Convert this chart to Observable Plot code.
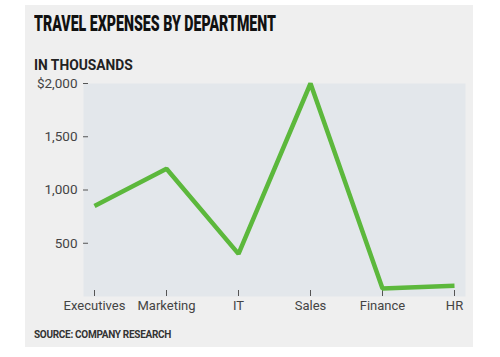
<!DOCTYPE html>
<html>
<head>
<meta charset="utf-8">
<script src="https://cdn.jsdelivr.net/npm/d3@7"></script>
<script src="https://cdn.jsdelivr.net/npm/@observablehq/plot@0.6"></script>
<style>
  html, body { margin: 0; padding: 0; background: #fff; width: 500px; height: 357px; overflow: hidden; }
  #card { position: absolute; left: 25px; top: 5px; width: 448px; height: 342px; background: #efefef; }
  #title { position: absolute; left: 34px; top: 12px; font-family: Roboto, sans-serif; font-weight: 900; font-size: 21.5px; line-height: 1.15; color: #111; white-space: nowrap; transform-origin: 0 0; display: inline-block; }
  #subtitle { position: absolute; left: 34px; top: 57px; font-family: Roboto, sans-serif; font-weight: bold; font-size: 13.8px; color: #222; white-space: nowrap; }
  #chart { position: absolute; left: 0; top: 75px; }
  #source { position: absolute; left: 34px; top: 329px; font-family: Roboto, sans-serif; font-weight: bold; font-size: 10px; color: #333; letter-spacing: -0.3px; white-space: nowrap; }
</style>
</head>
<body>
<div id="card"></div>
<div id="title">TRAVEL EXPENSES BY DEPARTMENT</div>
<div id="subtitle">IN THOUSANDS</div>
<div id="chart"></div>
<div id="source">SOURCE: COMPANY RESEARCH</div>
<script>
const departments = ["Executives", "Marketing", "IT", "Sales", "Finance", "HR"];
const expenses = [850, 1200, 400, 2000, 75, 100];
const yTicks = [500, 1000, 1500, 2000];
const yTickLabels = ["500", "1,000", "1,500", "$2,000"];

const data = departments.map((d, i) => ({department: d, value: expenses[i]}));

// condense the headline to mimic a narrow display face
const title = document.getElementById("title");
const w = title.getBoundingClientRect().width;
title.style.transform = `scaleX(${242 / w})`;

const chart = Plot.plot({
  width: 500,
  height: 245,
  marginLeft: 83,
  marginRight: 35,
  marginTop: 8,
  marginBottom: 24,
  style: {background: "transparent", fontFamily: "Roboto, sans-serif", fontSize: "13px", color: "#444"},
  x: {type: "point", domain: departments, padding: 0.15, label: null},
  y: {domain: [0, 2000], label: null},
  marks: [
    Plot.frame({fill: "#e3e7eb", stroke: null}),
    Plot.axisX({tickSize: -6, tickPadding: 10, stroke: "#555", fill: "#444", fontSize: 13, label: null}),
    Plot.axisY({ticks: yTicks, tickFormat: (d) => yTickLabels[yTicks.indexOf(d)], tickSize: -5, tickPadding: 11, stroke: "#555", fill: "#444", fontSize: 13.5, label: null}),
    Plot.line(data, {x: "department", y: "value", stroke: "#5cb83c", strokeWidth: 4.5, strokeLinejoin: "miter", strokeLinecap: "butt"})
  ]
});
document.getElementById("chart").appendChild(chart);
</script>
</body>
</html>
